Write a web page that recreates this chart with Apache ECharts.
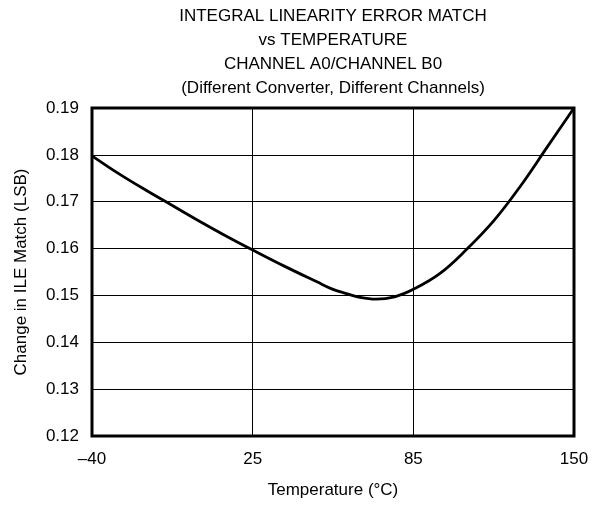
<!DOCTYPE html>
<html>
<head>
<meta charset="utf-8">
<script src="https://cdn.jsdelivr.net/npm/echarts@6/dist/echarts.min.js"></script>
<style>
html,body{margin:0;padding:0;background:#fff;}
#chart{width:607px;height:505px;}
</style>
</head>
<body>
<div id="chart"></div>
<script>
// Temperature ticks (gridlines are evenly spaced on the original chart)
const xTickTemps = [-40, 25, 85, 150];
const xTickLabels = ['–40', '25', '85', '150'];
const yTicks = [0.12, 0.13, 0.14, 0.15, 0.16, 0.17, 0.18, 0.19];

// Curve
const temperatures = [-40, -29.2, -18.3, -7.5, 3.3, 14.2, 25,
                      37, 49, 55, 60, 65, 71, 78, 85,
                      95.8, 106.7, 117.5, 128.3, 139.2, 150];
const ileMatch     = [0.1798, 0.1760, 0.1725, 0.1692, 0.1659, 0.1627, 0.1597,
                      0.1562, 0.1529, 0.1513, 0.1504, 0.1496, 0.1492, 0.1497, 0.1513,
                      0.1547, 0.1599, 0.1659, 0.1733, 0.1817, 0.1900];

// piecewise-linear temperature scale: tick i sits at axis position i
function tempToPos(t) {
  for (let i = 0; i < xTickTemps.length - 1; i++) {
    const a = xTickTemps[i], b = xTickTemps[i + 1];
    if (t <= b || i === xTickTemps.length - 2) return i + (t - a) / (b - a);
  }
}

const font = 'Liberation Sans, Arial, Helvetica, sans-serif';
const chart = echarts.init(document.getElementById('chart'), null, {renderer: 'canvas'});
chart.setOption({
  animation: false,
  backgroundColor: '#fff',
  title: {
    text: 'INTEGRAL LINEARITY ERROR MATCH\nvs TEMPERATURE\nCHANNEL A0/CHANNEL B0\n(Different Converter, Different Channels)',
    left: 333,
    top: 4,
    padding: 0,
    textAlign: 'center',
    textStyle: {fontFamily: font, fontSize: 17, fontWeight: 'normal', color: '#000', lineHeight: 24}
  },
  grid: {
    left: 92, right: 33, top: 108, bottom: 69,
    show: true, borderColor: '#000', borderWidth: 3, backgroundColor: 'transparent'
  },
  xAxis: {
    type: 'value', min: 0, max: xTickTemps.length - 1, interval: 1,
    name: 'Temperature (°C)', nameLocation: 'middle', nameGap: 46,
    nameTextStyle: {fontFamily: font, fontSize: 17, color: '#000'},
    axisLine: {show: false},
    axisTick: {show: false},
    axisLabel: {fontFamily: font, fontSize: 17, color: '#000', margin: 15,
      formatter: v => xTickLabels[Math.round(v)]},
    splitLine: {show: true, lineStyle: {color: '#000', width: 1}}
  },
  yAxis: {
    type: 'value', min: yTicks[0], max: yTicks[yTicks.length - 1], interval: 0.01,
    name: 'Change in ILE Match (LSB)', nameLocation: 'middle', nameGap: 62,
    nameTextStyle: {fontFamily: font, fontSize: 17, color: '#000'},
    axisLine: {show: false},
    axisTick: {show: false},
    axisLabel: {fontFamily: font, fontSize: 17, color: '#000', margin: 13,
      formatter: v => v.toFixed(2)},
    splitLine: {show: true, lineStyle: {color: '#000', width: 1}}
  },
  series: [{
    type: 'line',
    data: temperatures.map((t, i) => [tempToPos(t), ileMatch[i]]),
    smooth: 0.4,
    symbol: 'none',
    lineStyle: {color: '#000', width: 2.8},
    z: 3
  }]
});
</script>
</body>
</html>
